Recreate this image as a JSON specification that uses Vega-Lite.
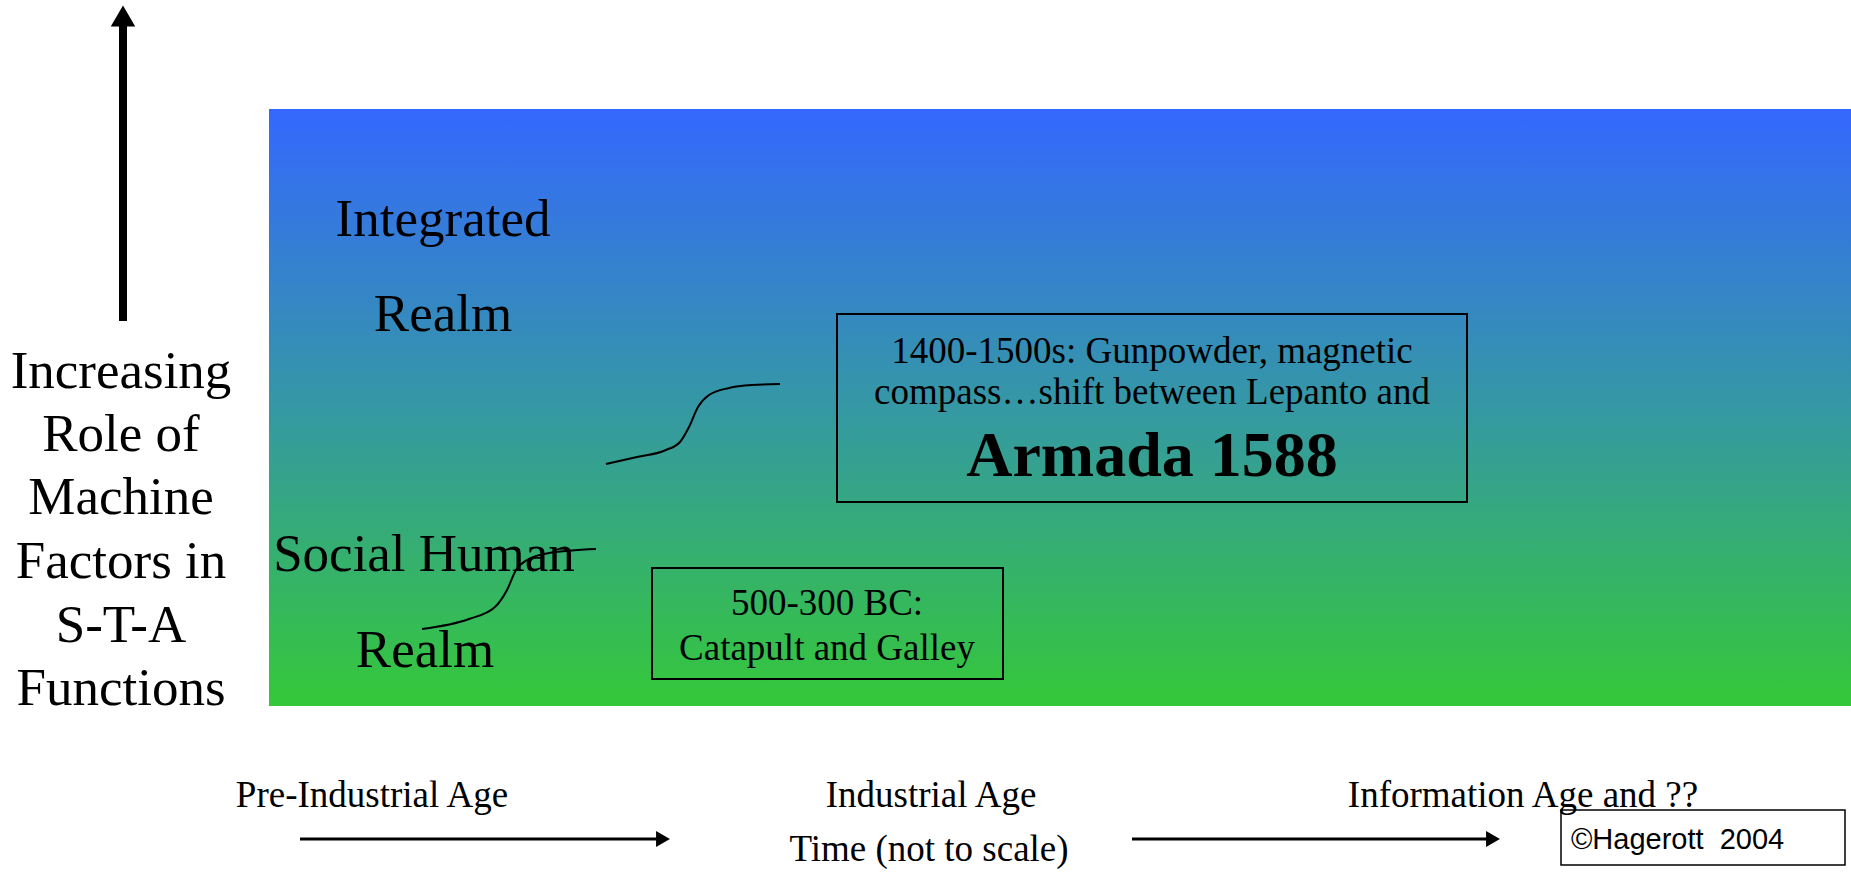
{
  "$schema": "https://vega.github.io/schema/vega-lite/v6.json",
  "width": 1851,
  "height": 872,
  "autosize": {"type": "fit", "contains": "padding"},
  "padding": 0,
  "background": "white",
  "config": {"view": {"stroke": null}},
  "datasets": {
    "regions": [
      {"kind": "field", "x": 269, "x2": 1851, "y": 109, "y2": 706},
      {"kind": "box", "x": 837, "x2": 1467, "y": 314, "y2": 502},
      {"kind": "box", "x": 652, "x2": 1003, "y": 568, "y2": 679},
      {"kind": "copy", "x": 1561, "x2": 1845, "y": 810, "y2": 865}
    ],
    "lines": [
      {"kind": "vshaft", "id": "v", "order": 1, "x": 123, "y": 321},
      {"kind": "vshaft", "id": "v", "order": 2, "x": 123, "y": 26},
      {"kind": "hshaft", "id": "h1", "order": 1, "x": 300, "y": 839},
      {"kind": "hshaft", "id": "h1", "order": 2, "x": 658, "y": 839},
      {"kind": "hshaft", "id": "h2", "order": 1, "x": 1132, "y": 839},
      {"kind": "hshaft", "id": "h2", "order": 2, "x": 1488, "y": 839},
      {"kind": "curve", "id": "c1", "order": 1, "x": 606, "y": 464},
      {"kind": "curve", "id": "c1", "order": 2, "x": 637, "y": 457},
      {"kind": "curve", "id": "c1", "order": 3, "x": 666, "y": 450},
      {"kind": "curve", "id": "c1", "order": 4, "x": 680, "y": 442},
      {"kind": "curve", "id": "c1", "order": 5, "x": 689, "y": 427},
      {"kind": "curve", "id": "c1", "order": 6, "x": 698, "y": 407},
      {"kind": "curve", "id": "c1", "order": 7, "x": 709, "y": 395},
      {"kind": "curve", "id": "c1", "order": 8, "x": 729, "y": 388},
      {"kind": "curve", "id": "c1", "order": 9, "x": 752, "y": 385},
      {"kind": "curve", "id": "c1", "order": 10, "x": 780, "y": 384},
      {"kind": "curve", "id": "c2", "order": 1, "x": 422, "y": 629},
      {"kind": "curve", "id": "c2", "order": 2, "x": 469, "y": 619},
      {"kind": "curve", "id": "c2", "order": 3, "x": 495, "y": 607},
      {"kind": "curve", "id": "c2", "order": 4, "x": 507, "y": 590},
      {"kind": "curve", "id": "c2", "order": 5, "x": 516, "y": 570},
      {"kind": "curve", "id": "c2", "order": 6, "x": 527, "y": 560},
      {"kind": "curve", "id": "c2", "order": 7, "x": 549, "y": 553},
      {"kind": "curve", "id": "c2", "order": 8, "x": 596, "y": 549}
    ],
    "heads": [
      {"kind": "up", "x": 123, "y": 16},
      {"kind": "right", "x": 663, "y": 839},
      {"kind": "right", "x": 1493, "y": 839}
    ],
    "labels": [
      {"kind": "big", "text": "Integrated", "x": 443, "y": 236},
      {"kind": "big", "text": "Realm", "x": 443, "y": 331},
      {"kind": "big", "text": "Increasing", "x": 121, "y": 388},
      {"kind": "big", "text": "Role of", "x": 121, "y": 451},
      {"kind": "big", "text": "Machine", "x": 121, "y": 514},
      {"kind": "big", "text": "Factors in", "x": 121, "y": 578},
      {"kind": "big", "text": "S-T-A", "x": 121, "y": 642},
      {"kind": "big", "text": "Functions", "x": 121, "y": 705},
      {"kind": "big", "text": "Social Human", "x": 424, "y": 571},
      {"kind": "big", "text": "Realm", "x": 425, "y": 667},
      {"kind": "mid", "text": "1400-1500s: Gunpowder, magnetic", "x": 1152, "y": 363},
      {"kind": "mid", "text": "compass…shift between Lepanto and", "x": 1152, "y": 404},
      {"kind": "mid", "text": "500-300 BC:", "x": 827, "y": 615},
      {"kind": "mid", "text": "Catapult and Galley", "x": 827, "y": 660},
      {"kind": "mid", "text": "Pre-Industrial Age", "x": 372, "y": 807},
      {"kind": "mid", "text": "Industrial Age", "x": 931, "y": 807},
      {"kind": "mid", "text": "Time (not to scale)", "x": 929, "y": 861},
      {"kind": "mid", "text": "Information Age and ??", "x": 1523, "y": 807},
      {"kind": "bold", "text": "Armada 1588", "x": 1152, "y": 476},
      {"kind": "copy", "text": "©Hagerott\u00a0 2004", "x": 1571, "y": 849}
    ]
  },
  "encoding": {
    "x": {"field": "x", "type": "quantitative", "axis": null, "scale": {"domain": [0, 1851], "nice": false, "zero": false}},
    "y": {"field": "y", "type": "quantitative", "axis": null, "scale": {"domain": [0, 872], "nice": false, "zero": false, "reverse": true}}
  },
  "layer": [
    {
      "data": {"name": "regions"},
      "transform": [{"filter": "datum.kind == 'field'"}],
      "mark": {"type": "rect", "color": {"gradient": "linear", "x1": 0, "y1": 0, "x2": 0, "y2": 1, "stops": [{"offset": 0, "color": "#3468FE"}, {"offset": 0.5, "color": "#3598A4"}, {"offset": 1, "color": "#35C839"}]}},
      "encoding": {"x2": {"field": "x2"}, "y2": {"field": "y2"}}
    },
    {
      "data": {"name": "regions"},
      "transform": [{"filter": "datum.kind == 'box'"}],
      "mark": {"type": "rect", "filled": false, "color": "black", "strokeWidth": 2},
      "encoding": {"x2": {"field": "x2"}, "y2": {"field": "y2"}}
    },
    {
      "data": {"name": "regions"},
      "transform": [{"filter": "datum.kind == 'copy'"}],
      "mark": {"type": "rect", "filled": false, "color": "black", "strokeWidth": 1.5},
      "encoding": {"x2": {"field": "x2"}, "y2": {"field": "y2"}}
    },
    {
      "data": {"name": "lines"},
      "transform": [{"filter": "datum.kind == 'vshaft'"}],
      "mark": {"type": "line", "color": "black", "strokeWidth": 8, "strokeCap": "butt"},
      "encoding": {"detail": {"field": "id"}, "order": {"field": "order"}}
    },
    {
      "data": {"name": "lines"},
      "transform": [{"filter": "datum.kind == 'hshaft'"}],
      "mark": {"type": "line", "color": "black", "strokeWidth": 3, "strokeCap": "butt"},
      "encoding": {"detail": {"field": "id"}, "order": {"field": "order"}}
    },
    {
      "data": {"name": "lines"},
      "transform": [{"filter": "datum.kind == 'curve'"}],
      "mark": {"type": "line", "color": "black", "strokeWidth": 2, "interpolate": "monotone"},
      "encoding": {"detail": {"field": "id"}, "order": {"field": "order"}}
    },
    {
      "data": {"name": "heads"},
      "transform": [{"filter": "datum.kind == 'up'"}],
      "mark": {"type": "point", "shape": "triangle-up", "size": 600, "filled": true, "color": "black", "opacity": 1, "strokeWidth": 0}
    },
    {
      "data": {"name": "heads"},
      "transform": [{"filter": "datum.kind == 'right'"}],
      "mark": {"type": "point", "shape": "triangle-right", "size": 256, "filled": true, "color": "black", "opacity": 1, "strokeWidth": 0}
    },
    {
      "data": {"name": "labels"},
      "transform": [{"filter": "datum.kind == 'big'"}],
      "mark": {"type": "text", "font": "Liberation Serif", "fontSize": 53, "align": "center", "baseline": "alphabetic", "color": "black"},
      "encoding": {"text": {"field": "text"}}
    },
    {
      "data": {"name": "labels"},
      "transform": [{"filter": "datum.kind == 'mid'"}],
      "mark": {"type": "text", "font": "Liberation Serif", "fontSize": 37, "align": "center", "baseline": "alphabetic", "color": "black"},
      "encoding": {"text": {"field": "text"}}
    },
    {
      "data": {"name": "labels"},
      "transform": [{"filter": "datum.kind == 'bold'"}],
      "mark": {"type": "text", "font": "Liberation Serif", "fontSize": 64, "fontWeight": "bold", "align": "center", "baseline": "alphabetic", "color": "black"},
      "encoding": {"text": {"field": "text"}}
    },
    {
      "data": {"name": "labels"},
      "transform": [{"filter": "datum.kind == 'copy'"}],
      "mark": {"type": "text", "font": "Liberation Sans", "fontSize": 29, "align": "left", "baseline": "alphabetic", "color": "black"},
      "encoding": {"text": {"field": "text"}}
    }
  ]
}
